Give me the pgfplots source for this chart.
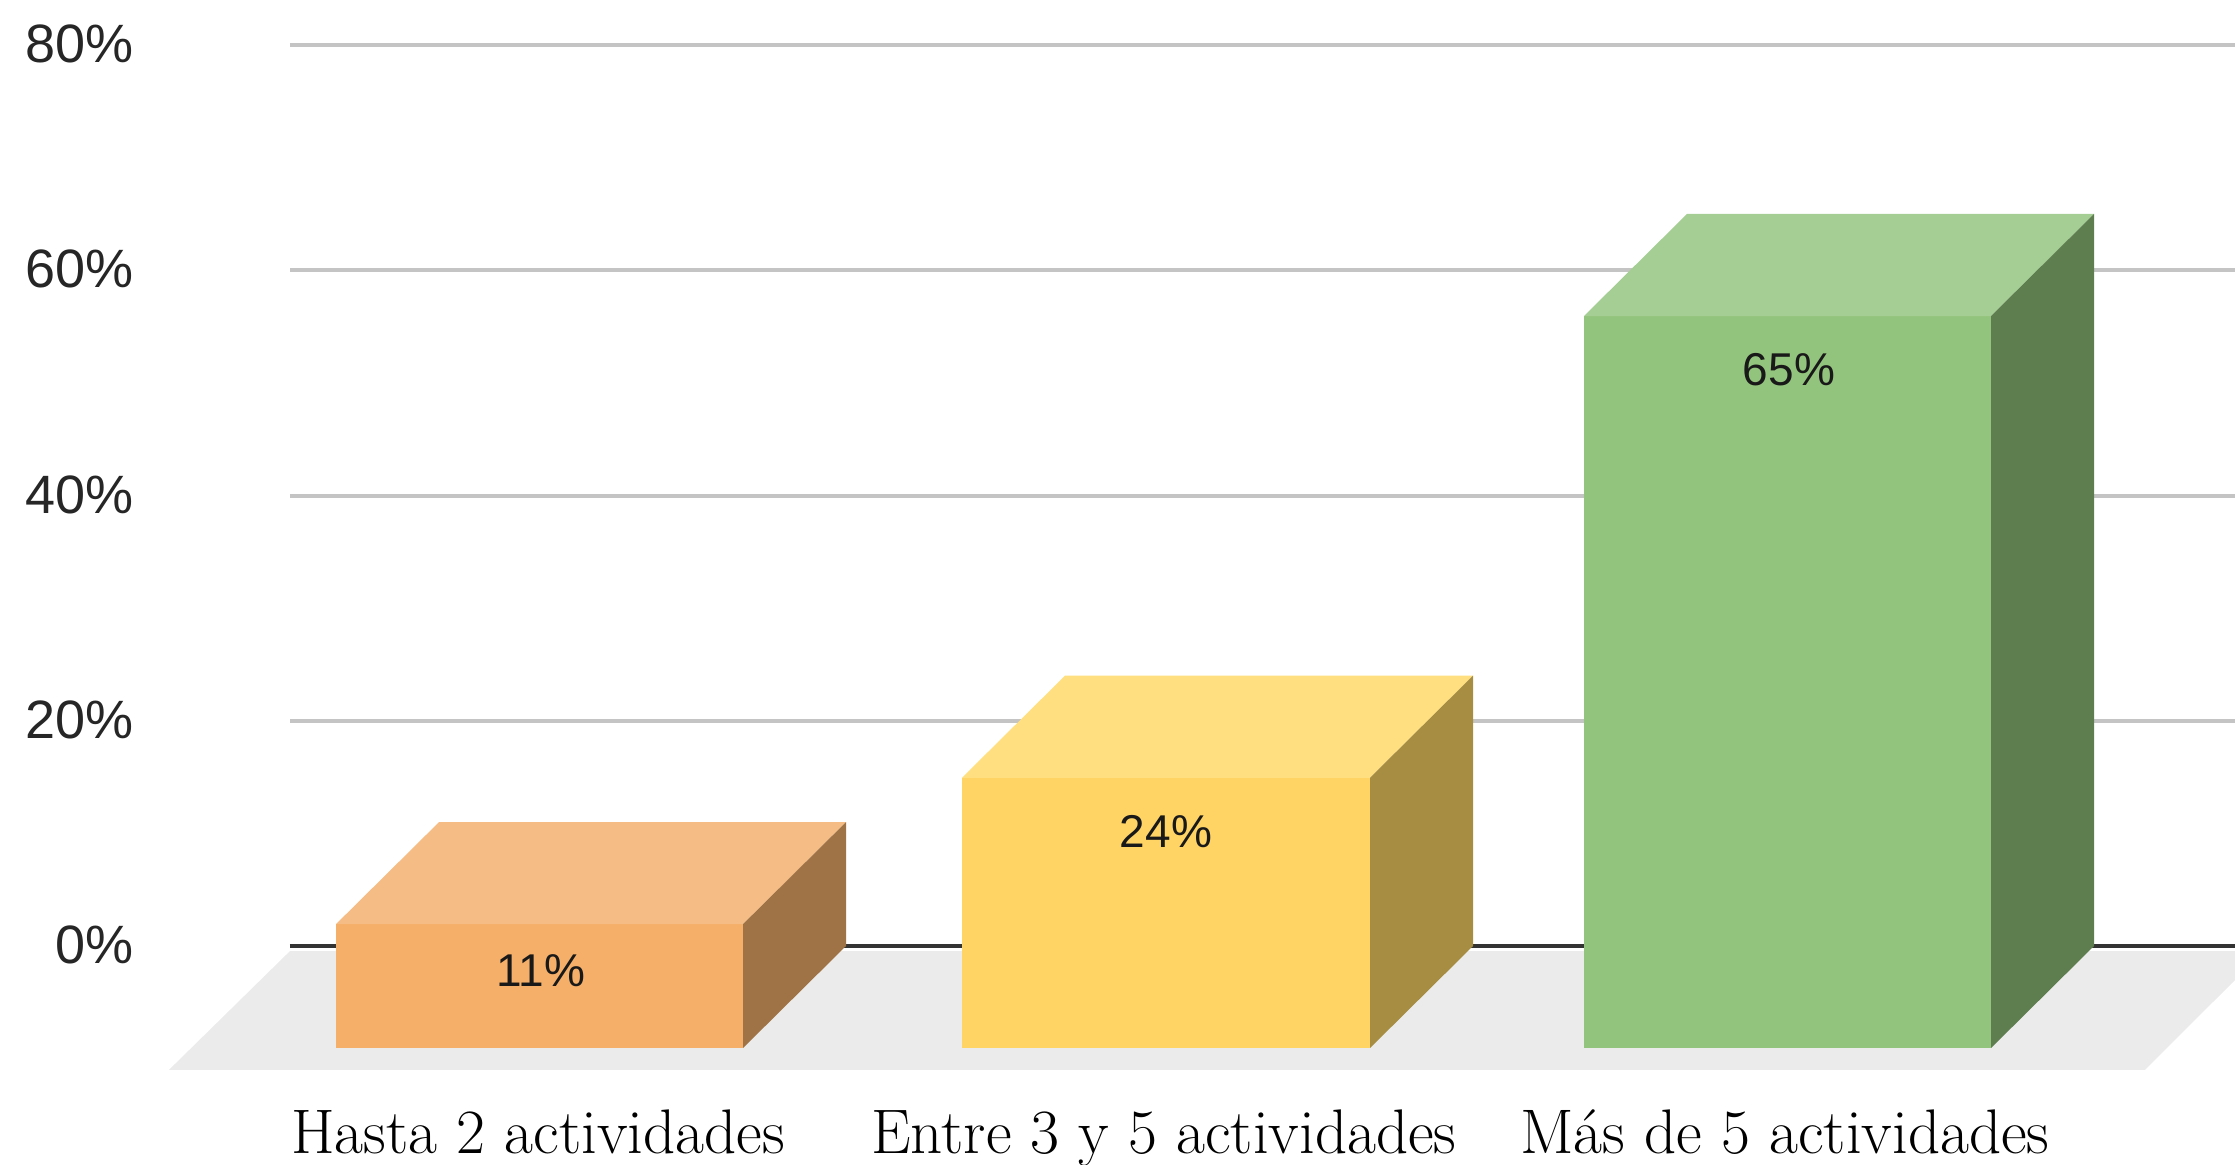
\documentclass[border=0pt]{standalone}
\usepackage{fontspec}
\usepackage{pgfplots}
\pgfplotsset{compat=1.18}
\newfontfamily\sansf{Liberation Sans}

\definecolor{gridc}{HTML}{C4C4C4}
\definecolor{floorc}{HTML}{EBEBEB}
\definecolor{zeroc}{HTML}{333333}
\definecolor{ofront}{HTML}{F5AF69}
\definecolor{otop}{HTML}{F5BD85}
\definecolor{oside}{HTML}{A07346}
\definecolor{yfront}{HTML}{FFD465}
\definecolor{ytop}{HTML}{FFDF80}
\definecolor{yside}{HTML}{A68D42}
\definecolor{gfront}{HTML}{93C47D}
\definecolor{gtop}{HTML}{A5CE94}
\definecolor{gside}{HTML}{5F7E50}

\begin{document}
\begin{tikzpicture}[x=1pt,y=1pt]
\path[use as bounding box] (0,0) rectangle (1117.5,582.5);
\begin{axis}[
  at={(145pt,47.55pt)},
  anchor=south west,
  scale only axis,
  width=972.5pt,
  height=534.95pt,
  xmin=290, xmax=2235,
  ymin=-11, ymax=84,
  clip=false,
  axis line style={draw=none},
  major tick length=0pt,
  tick style={draw=none},
  ytick={0,20,40,60,80},
  yticklabels={0\%,20\%,40\%,60\%,80\%},
  yticklabel style={font=\sansf\fontsize{27}{30}\selectfont, text=black!85, inner sep=0pt, anchor=east, xshift=-78pt, yshift=0.5pt},
  xtick={538,1164,1785},
  xticklabels={Hasta 2 actividades,Entre 3 y 5 actividades,Más de 5 actividades},
  xticklabel style={font=\fontsize{31.5}{34}\selectfont, text=black, inner sep=0pt, anchor=base, yshift=-42pt},
  ymajorgrids,
  grid style={line width=2pt, draw=gridc},
]
  % floor
  \addplot[fill=floorc, draw=none] coordinates {
    (290,-0.45) (2235,-0.45) (2235,-3.02) (2145,-11) (169,-11)
  } --cycle;
  \addplot[draw=zeroc, line width=2pt] coordinates {(290,0) (2235,0)};

  % Hasta 2 actividades: 11
  \addplot[fill=ofront, draw=none] coordinates {(336,-9.06) (743,-9.06) (743,1.94) (336,1.94)} --cycle;
  \addplot[fill=otop, draw=none] coordinates {(336,1.94) (743,1.94) (846,11) (439,11)} --cycle;
  \addplot[fill=oside, draw=none] coordinates {(743,-9.06) (846,0) (846,11) (743,1.94)} --cycle;

  % Entre 3 y 5 actividades: 24
  \addplot[fill=yfront, draw=none] coordinates {(962,-9.06) (1370,-9.06) (1370,14.94) (962,14.94)} --cycle;
  \addplot[fill=ytop, draw=none] coordinates {(962,14.94) (1370,14.94) (1473,24) (1065,24)} --cycle;
  \addplot[fill=yside, draw=none] coordinates {(1370,-9.06) (1473,0) (1473,24) (1370,14.94)} --cycle;

  % Mas de 5 actividades: 65
  \addplot[fill=gfront, draw=none] coordinates {(1584,-9.06) (1991,-9.06) (1991,55.94) (1584,55.94)} --cycle;
  \addplot[fill=gtop, draw=none] coordinates {(1584,55.94) (1991,55.94) (2094,65) (1687,65)} --cycle;
  \addplot[fill=gside, draw=none] coordinates {(1991,-9.06) (2094,0) (2094,65) (1991,55.94)} --cycle;

  % value labels
  \addplot[draw=none, point meta=explicit symbolic,
    nodes near coords,
    every node near coord/.style={anchor=center, inner sep=0pt, text=black!90,
      font=\sansf\fontsize{23}{25}\selectfont}]
    coordinates {(541,-2.2)[11\%] (1166,10.2)[24\%] (1789,51.2)[65\%]};
\end{axis}
\end{tikzpicture}
\end{document}
